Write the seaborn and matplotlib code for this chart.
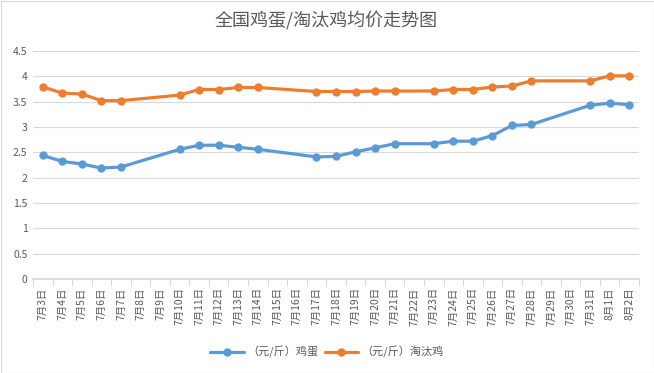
import pandas as pd
import matplotlib
matplotlib.use("Agg")
from matplotlib import pyplot as plt
from matplotlib.patches import Rectangle
import seaborn as sns

# all category labels on the x axis
all_days = ["7月%d日" % d for d in range(3, 32)] + ["8月1日", "8月2日"]

# dates that have a price
price_days = [
    "7月3日", "7月4日", "7月5日", "7月6日", "7月7日",
    "7月10日", "7月11日", "7月12日", "7月13日", "7月14日",
    "7月17日", "7月18日", "7月19日", "7月20日", "7月21日",
    "7月23日", "7月24日", "7月25日", "7月26日", "7月27日", "7月28日",
    "7月31日", "8月1日", "8月2日",
]
egg = [
    2.44, 2.32, 2.27, 2.19, 2.21,
    2.56, 2.64, 2.64, 2.60, 2.56,
    2.41, 2.42, 2.51, 2.59, 2.67,
    2.67, 2.72, 2.72, 2.83, 3.03, 3.05,
    3.43, 3.47, 3.44,
]
hen = [
    3.79, 3.67, 3.65, 3.52, 3.52,
    3.63, 3.74, 3.74, 3.78, 3.78,
    3.70, 3.70, 3.70, 3.71, 3.71,
    3.71, 3.74, 3.74, 3.79, 3.81, 3.91,
    3.91, 4.01, 4.01,
]
series_names = ["（元/斤）鸡蛋", "（元/斤）淘汰鸡"]
colors = ["#5B9BD5", "#ED7D31"]

sns.set_theme(style="white")
plt.rcParams["font.family"] = ["Noto Sans CJK SC", "DejaVu Sans"]

pos = [all_days.index(d) for d in price_days]
df = pd.concat([
    pd.DataFrame({"pos": pos, "price": egg, "series": series_names[0]}),
    pd.DataFrame({"pos": pos, "price": hen, "series": series_names[1]}),
])

fig = plt.figure(figsize=(6.54, 3.73), dpi=100)
ax = fig.add_axes([33 / 654, 1 - 279 / 373, (639 - 33) / 654, (279 - 51) / 373])

sns.lineplot(
    data=df, x="pos", y="price", hue="series", palette=colors,
    marker="o", markersize=6, markeredgewidth=0, linewidth=2.3,
    sort=False, ax=ax,
)

ax.set_xlim(-0.5, len(all_days) - 0.5)
ax.set_ylim(0, 4.5)
ax.set_yticks([i * 0.5 for i in range(10)])
ax.set_yticklabels(["0", "0.5", "1", "1.5", "2", "2.5", "3", "3.5", "4", "4.5"])
ax.set_xticks(range(len(all_days)))
ax.set_xticklabels(all_days, rotation=90)
ax.set_xticks([i - 0.5 for i in range(len(all_days) + 1)], minor=True)
ax.tick_params(axis="x", which="major", length=0, pad=6, labelsize=7.5, colors="#595959")
ax.tick_params(axis="x", which="minor", length=5, color="#d9d9d9", width=0.8, bottom=True)
ax.tick_params(axis="y", length=0, labelsize=7.5, colors="#595959", pad=4)
ax.yaxis.grid(True, color="#d9d9d9", linewidth=0.8)
ax.set_axisbelow(True)
for s in ["top", "right", "left"]:
    ax.spines[s].set_visible(False)
ax.spines["bottom"].set_color("#d9d9d9")
ax.set_xlabel("")
ax.set_ylabel("")

handles, labels = ax.get_legend_handles_labels()
ax.legend(
    handles, labels, loc="center", bbox_to_anchor=(0.5, 1 - 352 / 373),
    bbox_transform=fig.transFigure, ncol=2, frameon=False, fontsize=8,
    handlelength=3, columnspacing=0.6, handletextpad=0.3, labelcolor="#595959",
)

fig.text(326 / 654, 1 - 21 / 373, "全国鸡蛋/淘汰鸡均价走势图", ha="center", va="center",
         fontsize=13, color="#595959")
fig.patches.append(Rectangle((0.5 / 654, 0.5 / 373), 653 / 654, 372 / 373,
                             transform=fig.transFigure, fill=False,
                             edgecolor="#d9d9d9", linewidth=0.8))

fig.savefig("out.png", dpi=100)
